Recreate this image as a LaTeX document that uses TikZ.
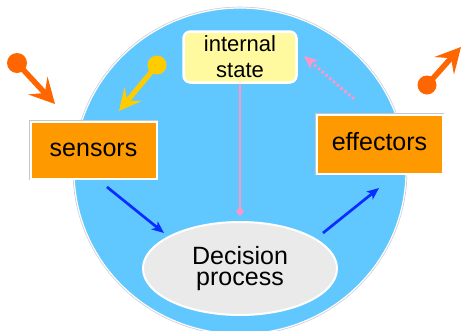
\documentclass[tikz,border=0pt]{standalone}
\usepackage{fontspec}
\setmainfont{Liberation Sans}
\usetikzlibrary{arrows.meta,shapes.geometric}
\definecolor{bgblue}{RGB}{96,200,255}
\definecolor{boxorange}{RGB}{255,153,0}
\definecolor{arrorange}{RGB}{255,102,0}
\definecolor{arryellow}{RGB}{255,204,0}
\definecolor{pinkc}{RGB}{255,150,200}
\definecolor{arrblue}{RGB}{10,45,255}
\definecolor{decgray}{RGB}{234,234,234}
\definecolor{stateyellow}{RGB}{255,250,160}
\tikzset{
  outlined/.style={preaction={draw=black!22,line width=3.4pt},draw=white,line width=2pt},
  orangebox/.style={rectangle,outlined,fill=boxorange,inner sep=0pt,
    font=\fontsize{25}{21}\selectfont,text height=17.6pt,text depth=5pt},
  statebox/.style={rectangle,rounded corners=7pt,fill=stateyellow,draw=white,line width=2.5pt,
    inner sep=0pt,minimum width=113pt,minimum height=51pt,align=center,
    font=\fontsize{22}{26}\selectfont},
  decbox/.style={ellipse,fill=decgray,draw=white,line width=2pt,inner sep=0pt,
    minimum width=194pt,minimum height=93pt,align=center,font=\fontsize{25}{21.5}\selectfont},
  ball/.style={circle,inner sep=0pt,minimum size=#1},
  inarrow/.style={line width=5.5pt},
  bluearrow/.style={draw=arrblue,line width=2.7pt,-{Stealth[length=12pt,width=10pt,inset=3pt]}},
}
\begin{document}
\begin{tikzpicture}[x=1pt,y=-1pt]
\useasboundingbox (0,0) rectangle (461,330);
% background agent ellipse
\path[fill=bgblue,preaction={draw=black!20,line width=2.6pt},draw=white,line width=1.2pt]
  (240,171) ellipse [x radius=166pt, y radius=163pt];
% nodes
\node[statebox] (internal) at (240,57) {internal\\state};
\node[orangebox,minimum width=126pt,minimum height=57pt] (sensors) at (93.5,150) {sensors};
\node[orangebox,minimum width=126pt,minimum height=59pt] (effectors) at (379.5,144) {effectors};
\node[decbox] (decision) at (240,268.5) {Decision\\process};
% balls for percepts and actions
\node[ball=20pt,fill=arrorange] (pin) at (17,63) {};
\coordinate (pintip) at (55,104);
\node[ball=19pt,fill=arryellow] (yin) at (157,65) {};
\coordinate (yintip) at (119,111);
\node[ball=19pt,fill=arrorange] (pout) at (427,85) {};
\coordinate (pouttip) at (461,47);
\draw[inarrow,draw=arrorange,-{Stealth[length=25pt,width=26pt,inset=10pt]}] (pin.center) -- (pintip);
\draw[inarrow,line width=5pt,draw=arryellow,-{Stealth[length=22pt,width=22pt,inset=9pt]}] (yin.center) -- (yintip);
\draw[inarrow,draw=arrorange,-{Stealth[length=25pt,width=26pt,inset=10pt]}] (pout.center) -- (pouttip);
% blue arrows
\coordinate (s1) at (107,187);
\coordinate (d1) at (164,233);
\coordinate (d2) at (323,233);
\coordinate (e1) at (379,188);
\draw[bluearrow] (s1) -- (d1);
\draw[bluearrow] (d2) -- (e1);
% internal state link
\draw[draw=pinkc,line width=2.5pt,-{Diamond[length=9pt,width=8pt]},shorten >=5pt] (internal.south) -- (decision.north);
% dotted pink arrow
\coordinate (p1) at (354,99);
\coordinate (p2) at (304,56);
\draw[draw=pinkc,line width=3pt,dash pattern=on 2.5pt off 2.5pt,-{Stealth[length=13pt,width=11pt,inset=3pt]}] (p1) -- (p2);
\end{tikzpicture}
\end{document}
